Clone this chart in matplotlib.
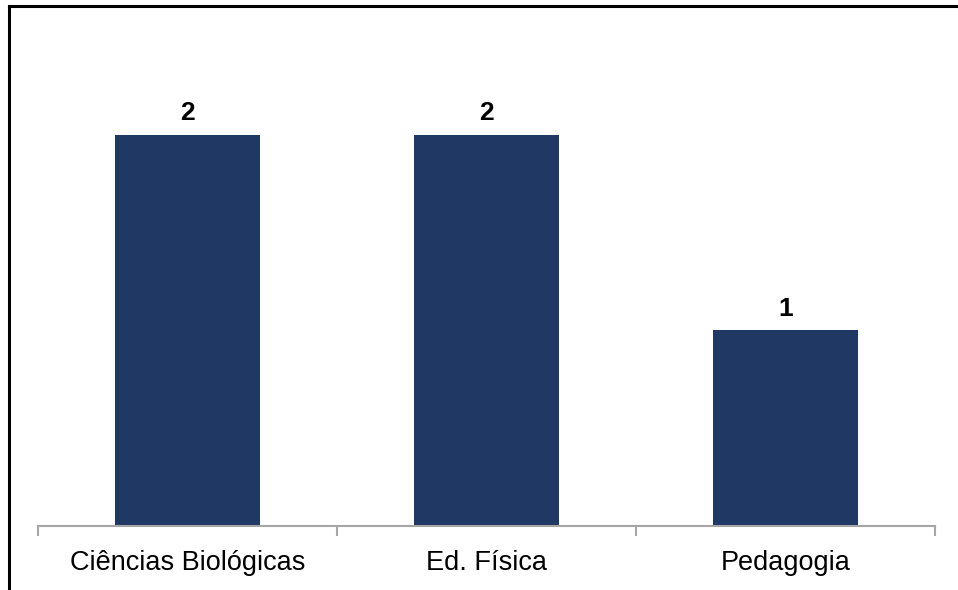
import matplotlib
matplotlib.use("Agg")
import matplotlib.pyplot as plt
from matplotlib.lines import Line2D

categories = ["Ciências Biológicas", "Ed. Física", "Pedagogia"]
values = [2, 2, 1]

plt.rcParams['font.family'] = ['Liberation Sans', 'DejaVu Sans']

fig = plt.figure(figsize=(9.58, 5.9), dpi=100)
ax = fig.add_axes([38 / 958, 64 / 590, 897 / 958, 489 / 590])

x = list(range(len(categories)))
bars = ax.bar(x, values, width=0.485, color='#203864')

for b, v in zip(bars, values):
    ax.text(b.get_x() + b.get_width() / 2, v + 0.05, str(v),
            ha='center', va='bottom', fontsize=19, fontweight='bold')

ax.set_xlim(-0.5, len(categories) - 0.5)
ax.set_ylim(0, 2.5)
ax.set_yticks([])
ax.set_xticks(x)
ax.set_xticklabels(categories, fontsize=19.5)
ax.set_xticks([i - 0.5 for i in range(len(categories) + 1)], minor=True)
ax.tick_params(axis='x', which='major', length=0, pad=17)
ax.tick_params(axis='x', which='minor', length=7, width=1.5, color='#a6a6a6', direction='out')

for s in ['top', 'right', 'left']:
    ax.spines[s].set_visible(False)
ax.spines['bottom'].set_color('#a6a6a6')
ax.spines['bottom'].set_linewidth(1.5)

# outer frame: top and left lines only
fig.add_artist(Line2D([9 / 958, 9 / 958], [0, 1 - 6 / 590], transform=fig.transFigure, color='black', lw=2.2))
fig.add_artist(Line2D([9 / 958, 1], [1 - 6 / 590, 1 - 6 / 590], transform=fig.transFigure, color='black', lw=2.2))

fig.savefig("out.png", dpi=100)
